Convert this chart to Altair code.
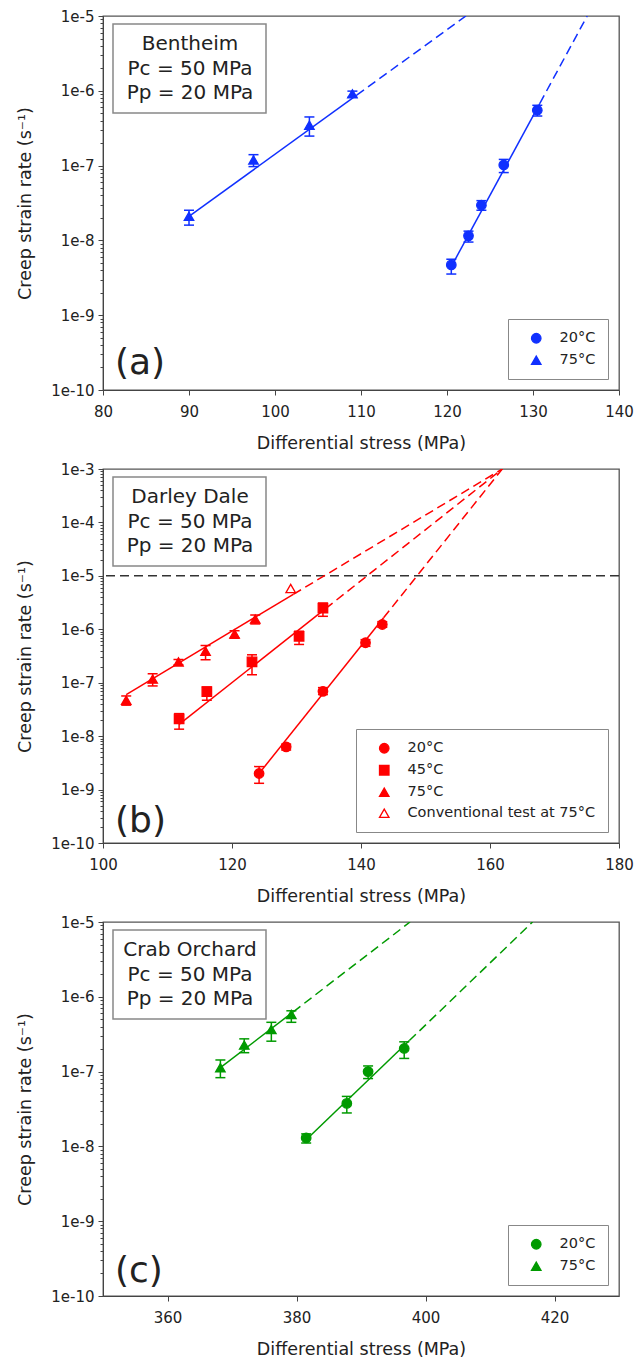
import altair as alt
import pandas as pd

# ---------------- data ----------------
# Panel (a) Bentheim
A20_X = [120.5, 122.5, 124.0, 126.6, 130.5]
A20_Y = [4.7e-9, 1.15e-8, 2.95e-8, 1.02e-7, 5.5e-7]
A20_LO = [3.55e-9, 9.5e-9, 2.53e-8, 8.07e-8, 4.6e-7]
A20_HI = [5.6e-9, 1.33e-8, 3.4e-8, 1.21e-7, 6.4e-7]
A75_X = [90.0, 97.5, 104.0, 109.0]
A75_Y = [2.1e-8, 1.19e-7, 3.47e-7, 9.1e-7]
A75_LO = [1.6e-8, 9.7e-8, 2.48e-7, 8.2e-7]
A75_HI = [2.53e-8, 1.4e-7, 4.47e-7, 9.9e-7]
A20_FIT_X = [120.5, 130.8, 136.3]
A20_FIT_Y = [4.47e-9, 6.8e-7, 1e-5]
A75_FIT_X = [90.0, 109.5, 122.2]
A75_FIT_Y = [2.09e-8, 8.75e-7, 1e-5]

# Panel (b) Darley Dale
B20_X = [124.2, 128.4, 134.1, 140.7, 143.3]
B20_Y = [2.0e-9, 6.3e-9, 6.9e-8, 5.6e-7, 1.23e-6]
B20_LO = [1.31e-9, 5.5e-9, 6.0e-8, 4.8e-7, 1.09e-6]
B20_HI = [2.69e-9, 7.1e-9, 8.1e-8, 6.4e-7, 1.39e-6]
B45_X = [111.8, 116.1, 123.1, 130.4, 134.1]
B45_Y = [2.1e-8, 6.8e-8, 2.45e-7, 7.4e-7, 2.5e-6]
B45_LO = [1.35e-8, 4.7e-8, 1.41e-7, 5.2e-7, 1.75e-6]
B45_HI = [2.64e-8, 8.3e-8, 3.33e-7, 9.2e-7, 3.1e-6]
B75_X = [103.6, 107.7, 111.7, 115.9, 120.4, 123.6]
B75_Y = [4.7e-8, 1.17e-7, 2.45e-7, 3.9e-7, 8.2e-7, 1.55e-6]
B75_LO = [3.8e-8, 8.7e-8, 2.16e-7, 2.69e-7, 6.8e-7, 1.26e-6]
B75_HI = [5.65e-8, 1.47e-7, 2.72e-7, 4.97e-7, 9.4e-7, 1.85e-6]
BCONV_X = [129.1]
BCONV_Y = [5.8e-6]
B20_FIT_X = [124.2, 143.5, 161.9]
B20_FIT_Y = [2.0e-9, 1.64e-6, 1e-3]
B45_FIT_X = [111.8, 134.5, 161.9]
B45_FIT_Y = [1.66e-8, 2.43e-6, 1e-3]
B75_FIT_X = [103.6, 129.5, 161.9]
B75_FIT_Y = [6.0e-8, 4.5e-6, 1e-3]
B_HLINE = [1e-5]

# Panel (c) Crab Orchard
C20_X = [381.5, 387.8, 391.1, 396.7]
C20_Y = [1.30e-8, 3.76e-8, 1.0e-7, 2.04e-7]
C20_LO = [1.11e-8, 2.8e-8, 8.07e-8, 1.5e-7]
C20_HI = [1.47e-8, 4.66e-8, 1.19e-7, 2.5e-7]
C75_X = [368.2, 371.9, 376.1, 379.2]
C75_Y = [1.13e-7, 2.26e-7, 3.65e-7, 5.8e-7]
C75_LO = [8.3e-8, 1.79e-7, 2.55e-7, 4.56e-7]
C75_HI = [1.43e-7, 2.74e-7, 4.56e-7, 6.5e-7]
C20_FIT_X = [381.5, 397.5, 416.6]
C20_FIT_Y = [1.23e-8, 2.6e-7, 1e-5]
C75_FIT_X = [368.2, 379.5, 397.6]
C75_FIT_Y = [1.13e-7, 6.3e-7, 1e-5]

BOX_A = ["Bentheim", "Pc = 50 MPa", "Pp = 20 MPa"]
BOX_B = ["Darley Dale", "Pc = 50 MPa", "Pp = 20 MPa"]
BOX_C = ["Crab Orchard", "Pc = 50 MPa", "Pp = 20 MPa"]

X_TICKS_A = [80, 90, 100, 110, 120, 130, 140]
X_TICKS_B = [100, 120, 140, 160, 180]
X_TICKS_C = [360, 380, 400, 420]

BLUE = "#1030ff"
RED = "#ff0000"
GREEN = "#009a00"
TXT = "#222222"
FONT = "DejaVu Sans"

W = 516
H = 374
DEC_TEST = "abs(log(datum.value)/LN10 - round(log(datum.value)/LN10)) < 0.001"


def y_values(e_lo, e_hi):
    vals = []
    for e in range(e_lo, e_hi):
        for m in range(1, 10):
            vals.append(float(f"{m}e{e}"))
    vals.append(float(f"1e{e_hi}"))
    return vals


def make_panel(series, fits, xdom, xticks, e_lo, e_hi, color, box_lines, tag,
               tag_y, hline=None):
    rows = []
    for s in series:
        lo = s.get("lo") or [None] * len(s["x"])
        hi = s.get("hi") or [None] * len(s["x"])
        for x, y, l, h in zip(s["x"], s["y"], lo, hi):
            rows.append({"series": s["name"], "x": x, "y": y, "lo": l, "hi": h})
    pts = pd.DataFrame(rows)
    errs = pts.dropna(subset=["lo"])

    solid_rows, dash_rows = [], []
    for name, fx, fy in fits:
        for i in (0, 1):
            solid_rows.append({"series": name, "x": fx[i], "y": fy[i], "o": i})
        for i in (1, 2):
            dash_rows.append({"series": name, "x": fx[i], "y": fy[i], "o": i})
    solid = pd.DataFrame(solid_rows)
    dashed = pd.DataFrame(dash_rows)

    domain = [s["name"] for s in series]
    shapes = [s["shape"] for s in series]
    fills = [s["fill"] for s in series]

    xsc = alt.Scale(domain=xdom, nice=False, zero=False)
    ysc = alt.Scale(type="log", domain=[float(f"1e{e_lo}"), float(f"1e{e_hi}")], nice=False)
    xaxis = alt.Axis(values=xticks, format="d", title="Differential stress (MPa)",
                     grid=False, labelFontSize=15, titleFontSize=17.5,
                     titleFontWeight="normal", tickSize=5, labelPadding=9,
                     titlePadding=15, labelFlush=False, domainColor="#444",
                     tickColor="#444", labelColor=TXT, titleColor=TXT,
                     labelFont=FONT, titleFont=FONT)
    yaxis = alt.Axis(values=y_values(e_lo, e_hi), format=".0e",
                     labelExpr=f"{DEC_TEST} ? format(datum.value, '.0e') : ''",
                     title="Creep strain rate (s⁻¹)", grid=False,
                     labelFontSize=15, titleFontSize=17.5, titleFontWeight="normal",
                     tickSize={"condition": {"test": DEC_TEST, "value": 5}, "value": 3},
                     labelPadding=4, titlePadding=16, labelOverlap=False,
                     labelFlush=False, domainColor="#444", tickColor="#444",
                     labelColor=TXT, titleColor=TXT, labelFont=FONT, titleFont=FONT)

    def X(f):
        return alt.X(f, scale=xsc, axis=xaxis)

    def Y(f):
        return alt.Y(f, scale=ysc, axis=yaxis)

    leg = alt.Legend(title=None, orient="bottom-right", offset=11, strokeColor="#888",
                     fillColor="white", padding=12, labelFontSize=14.5, symbolSize=90,
                     symbolOffset=9, labelOffset=16, rowPadding=6, labelLimit=0,
                     symbolStrokeWidth=1.3,
                     labelColor=TXT, labelFont=FONT, cornerRadius=0)

    one = pd.DataFrame({"k": [0]})
    rect = alt.Chart(one).mark_rect(fill="white", stroke="#888", strokeWidth=1.5).encode(
        x=alt.value(10), x2=alt.value(163), y=alt.value(8), y2=alt.value(97))
    layers = [rect]
    for line, yy in zip(box_lines, (28, 53, 77)):
        layers.append(
            alt.Chart(pd.DataFrame({"t": [line]})).mark_text(
                fontSize=20, align="center", baseline="middle", color=TXT, font=FONT
            ).encode(x=alt.value(87), y=alt.value(yy), text="t:N"))
    tag_mark = alt.Chart(pd.DataFrame({"t": [tag]})).mark_text(
        fontSize=36, align="left", baseline="middle", color=TXT, font=FONT).encode(
        x=alt.value(12), y=alt.value(tag_y), text="t:N")

    if hline is not None:
        layers.append(alt.Chart(pd.DataFrame({"y": hline})).mark_rule(
            color="#333", strokeWidth=1.5, strokeDash=[9, 5]).encode(y=Y("y:Q")))

    err = alt.Chart(errs).mark_rule(color=color, strokeWidth=1.5).encode(
        x=X("x:Q"), y=Y("lo:Q"), y2="hi:Q")
    cap_lo = alt.Chart(errs).mark_tick(orient="horizontal", size=10, thickness=1.5,
                                       color=color, opacity=1).encode(x=X("x:Q"), y=Y("lo:Q"))
    cap_hi = alt.Chart(errs).mark_tick(orient="horizontal", size=10, thickness=1.5,
                                       color=color, opacity=1).encode(x=X("x:Q"), y=Y("hi:Q"))
    l_solid = alt.Chart(solid).mark_line(color=color, strokeWidth=1.5, clip=True).encode(
        x=X("x:Q"), y=Y("y:Q"), detail="series:N", order="o:Q")
    l_dash = alt.Chart(dashed).mark_line(color=color, strokeWidth=1.5, clip=True,
                                         strokeDash=[9, 5]).encode(
        x=X("x:Q"), y=Y("y:Q"), detail="series:N", order="o:Q")
    points = alt.Chart(pts).mark_point(size=90, opacity=1, strokeWidth=1.3).encode(
        x=X("x:Q"), y=Y("y:Q"),
        shape=alt.Shape("series:N", scale=alt.Scale(domain=domain, range=shapes), legend=leg),
        fill=alt.Fill("series:N", scale=alt.Scale(domain=domain, range=fills), legend=leg),
        stroke=alt.Stroke("series:N", scale=alt.Scale(domain=domain, range=[color] * len(domain)),
                          legend=leg))

    layers += [err, cap_lo, cap_hi, l_solid, l_dash, points, tag_mark]
    return alt.layer(*layers).properties(width=W, height=H)


panel_a = make_panel(
    [
        {"name": "20°C", "x": A20_X, "y": A20_Y, "lo": A20_LO, "hi": A20_HI,
         "shape": "circle", "fill": BLUE},
        {"name": "75°C", "x": A75_X, "y": A75_Y, "lo": A75_LO, "hi": A75_HI,
         "shape": "triangle-up", "fill": BLUE},
    ],
    [("20°C", A20_FIT_X, A20_FIT_Y), ("75°C", A75_FIT_X, A75_FIT_Y)],
    [80, 140], X_TICKS_A, -10, -5, BLUE, BOX_A, "(a)", H - 27)

panel_b = make_panel(
    [
        {"name": "20°C", "x": B20_X, "y": B20_Y, "lo": B20_LO, "hi": B20_HI,
         "shape": "circle", "fill": RED},
        {"name": "45°C", "x": B45_X, "y": B45_Y, "lo": B45_LO, "hi": B45_HI,
         "shape": "square", "fill": RED},
        {"name": "75°C", "x": B75_X, "y": B75_Y, "lo": B75_LO, "hi": B75_HI,
         "shape": "triangle-up", "fill": RED},
        {"name": "Conventional test at 75°C", "x": BCONV_X, "y": BCONV_Y,
         "shape": "triangle-up", "fill": "white"},
    ],
    [("20°C", B20_FIT_X, B20_FIT_Y), ("45°C", B45_FIT_X, B45_FIT_Y),
     ("75°C", B75_FIT_X, B75_FIT_Y)],
    [100, 180], X_TICKS_B, -10, -3, RED, BOX_B, "(b)", H - 22, hline=B_HLINE)

panel_c = make_panel(
    [
        {"name": "20°C", "x": C20_X, "y": C20_Y, "lo": C20_LO, "hi": C20_HI,
         "shape": "circle", "fill": GREEN},
        {"name": "75°C", "x": C75_X, "y": C75_Y, "lo": C75_LO, "hi": C75_HI,
         "shape": "triangle-up", "fill": GREEN},
    ],
    [("20°C", C20_FIT_X, C20_FIT_Y), ("75°C", C75_FIT_X, C75_FIT_Y)],
    [350, 430], X_TICKS_C, -10, -5, GREEN, BOX_C, "(c)", H - 25)

chart = alt.vconcat(panel_a, panel_b, panel_c, spacing=8).resolve_scale(
    shape="independent", fill="independent", stroke="independent",
    x="independent", y="independent"
).resolve_legend(shape="independent", fill="independent", stroke="independent").properties(
    padding={"left": 8, "top": 0, "right": 0, "bottom": 0}
).configure(font=FONT).configure_view(stroke="#555", strokeWidth=1.3)

chart.save("out.html", embed_options={"renderer": "svg", "actions": False})
